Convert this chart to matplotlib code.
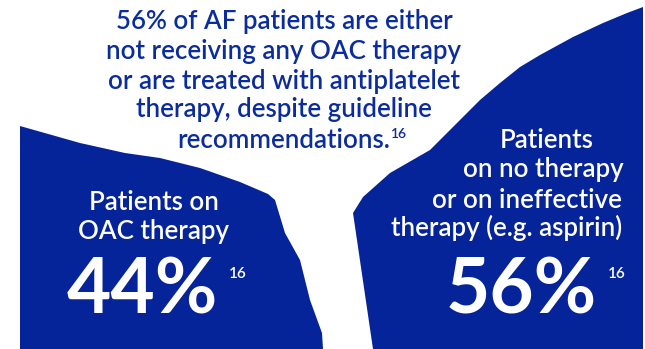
import matplotlib.pyplot as plt
from matplotlib.patches import Polygon

# ---- data ----
heading_lines = ["56% of AF patients are either",
                 "not receiving any OAC therapy",
                 "or are treated with antiplatelet",
                 "therapy, despite guideline",
                 "recommendations."]
heading_ref = "16"

left_label = ["Patients on", "OAC therapy"]
left_value = "44%"
right_label = ["Patients", "on no therapy", "or on ineffective", "therapy (e.g. aspirin)"]
right_value = "56%"
ref_mark = "16"

# outline of the two "cliff" shapes (pixel coords, y down)
left_shape_x = [20, 80, 125, 160, 200, 240, 268, 275, 285, 300, 310, 322, 323, 20]
left_shape_y = [126, 143, 153, 158, 168, 182, 194, 200, 233, 260, 300, 333, 349, 349]
right_shape_x = [373, 353, 363, 390, 430, 453, 480, 500, 520, 540, 573, 603, 627, 643, 643]
right_shape_y = [349, 213, 197, 173, 150, 127, 100, 83, 67, 55, 37, 23, 13, 7, 349]

BLUE = "#05249A"
TEXT_BLUE = "#0B2C9C"

plt.rcParams['font.family'] = ['Lato', 'DejaVu Sans']
W = "semibold"

fig = plt.figure(figsize=(6.45, 3.49), dpi=100)
ax = fig.add_axes([0, 0, 1, 1])
ax.set_xlim(0, 645)
ax.set_ylim(349, 0)
ax.axis("off")

ax.add_patch(Polygon(list(zip(left_shape_x, left_shape_y)), closed=True, color=BLUE, lw=0))
ax.add_patch(Polygon(list(zip(right_shape_x, right_shape_y)), closed=True, color=BLUE, lw=0))

# heading
head_y = [21, 51, 81, 110, 140]
last = None
for line, y in zip(heading_lines, head_y):
    last = ax.text(284, y, line, ha="center", va="center", fontsize=18.6, color=TEXT_BLUE, fontweight=W)
ax.annotate(heading_ref, xy=(1, 1), xycoords=last, xytext=(0, 0), textcoords="offset points",
            ha="left", va="top", fontsize=10, color=TEXT_BLUE, fontweight=W)

# left block
for line, y in zip(left_label, [203, 232]):
    ax.text(154, y, line, ha="center", va="center", fontsize=18.6, color="white", fontweight=W)
lv = ax.text(142, 291, left_value, ha="center", va="center", fontsize=55, color="white", fontweight="bold")
ax.annotate(ref_mark, xy=(1, 1), xycoords=lv, xytext=(8, -8), textcoords="offset points",
            ha="left", va="top", fontsize=11, color="white", fontweight=W)

# right block
for line, x, y in zip(right_label, [547, 543, 527, 507], [140, 170, 200, 228]):
    ax.text(x, y, line, ha="center", va="center", fontsize=18.6, color="white", fontweight=W)
rv = ax.text(521, 291, right_value, ha="center", va="center", fontsize=55, color="white", fontweight="bold")
ax.annotate(ref_mark, xy=(1, 1), xycoords=rv, xytext=(8, -8), textcoords="offset points",
            ha="left", va="top", fontsize=11, color="white", fontweight=W)

fig.savefig("out.png", dpi=100, facecolor="white")
